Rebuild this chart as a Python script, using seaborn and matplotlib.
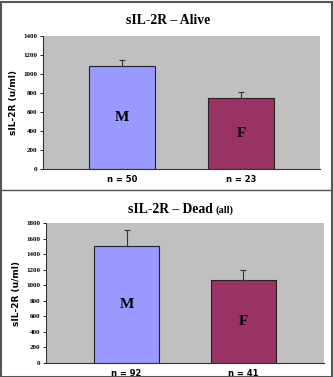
import matplotlib
matplotlib.use("Agg")
import matplotlib.pyplot as plt
import seaborn as sns
import pandas as pd
from matplotlib.patches import Rectangle
from matplotlib.lines import Line2D

# Data
sexes = ["M", "F"]
alive_n_labels = ["n = 50", "n = 23"]
alive_means = [1080, 745]
alive_err = [65, 65]
dead_n_labels = ["n = 92", "n = 41"]
dead_means = [1500, 1065]
dead_err = [210, 130]
alive_yticks = [0, 200, 400, 600, 800, 1000, 1200, 1400]
dead_yticks = [0, 200, 400, 600, 800, 1000, 1200, 1400, 1600, 1800]
bar_colors = ["#9999FF", "#993366"]

sns.set_theme(style="white")
plt.rcParams["font.family"] = ["DejaVu Sans"]
plt.rcParams["text.color"] = "black"
plt.rcParams["axes.labelcolor"] = "black"

W, H = 333, 377
fig = plt.figure(figsize=(W / 100, H / 100), dpi=100)
fig.patch.set_facecolor("white")


def ax_rect(l, t, r, b):
    return [l / W, 1 - b / H, (r - l) / W, (b - t) / H]


def panel(ax, labels, means, errs, yticks, width, margin):
    df = pd.DataFrame({"label": labels, "value": means})
    sns.barplot(data=df, x="label", y="value", hue="label", order=labels,
                palette=bar_colors, saturation=1, width=width,
                edgecolor="#222222", linewidth=0.8, legend=False, ax=ax,
                errorbar=None)
    xs = list(range(len(labels)))
    ax.errorbar(xs, means, yerr=[[0] * len(errs), errs], fmt="none",
                ecolor="#333333", elinewidth=0.8, capsize=2, capthick=0.8)
    for x, m, s in zip(xs, means, sexes):
        ax.text(x, m / 2, s, ha="center", va="center", fontsize=11,
                fontweight="bold", family="Liberation Serif", color="black")
    ax.set_facecolor("#C0C0C0")
    ax.set_ylim(yticks[0], yticks[-1])
    ax.set_yticks(yticks)
    ax.set_yticklabels([str(v) for v in yticks], family="Liberation Serif",
                       fontsize=5, fontweight="bold")
    ax.set_xticks(xs)
    ax.set_xticklabels(labels, fontsize=6, fontweight="bold")
    ax.set_xlabel("")
    ax.set_ylabel("sIL-2R (u/ml)", fontsize=6.5, fontweight="bold", labelpad=4)
    for side in ["top", "right"]:
        ax.spines[side].set_visible(False)
    for side in ["left", "bottom"]:
        ax.spines[side].set_color("#333333")
        ax.spines[side].set_linewidth(0.8)
    ax.tick_params(axis="y", length=2.5, width=0.6, pad=1.5, left=True,
                   colors="black")
    ax.tick_params(axis="x", length=0, pad=4, colors="black")
    ax.set_xlim(-margin, len(labels) - 1 + margin)


ax1 = fig.add_axes(ax_rect(43, 36, 320, 169))
panel(ax1, alive_n_labels, alive_means, alive_err, alive_yticks, 0.555, 0.664)
ax2 = fig.add_axes(ax_rect(46, 223, 324, 363))
panel(ax2, dead_n_labels, dead_means, dead_err, dead_yticks, 0.56, 0.69)

fig.text(168 / W, 1 - 21 / H, "sIL-2R \u2013 Alive", ha="center", va="center",
         fontsize=9.8, fontweight="bold", family="Liberation Serif")
fig.text(216 / W, 1 - 213 / H, "sIL-2R \u2013 Dead ", ha="right", va="baseline",
         fontsize=9.8, fontweight="bold", family="Liberation Serif")
fig.text(216 / W, 1 - 213 / H, "(all)", ha="left", va="baseline",
         fontsize=7.5, fontweight="bold", family="Liberation Serif")

# Frame and separator
fig.add_artist(Rectangle((0.5 / W, 0.5 / H), (W - 2) / W, (H - 2) / H,
                         transform=fig.transFigure, fill=False,
                         edgecolor="#555555", linewidth=1.5))
fig.add_artist(Line2D([0, 1], [1 - 190 / H, 1 - 190 / H],
                      transform=fig.transFigure, color="#555555", linewidth=1))

fig.savefig("out.png", dpi=100)
